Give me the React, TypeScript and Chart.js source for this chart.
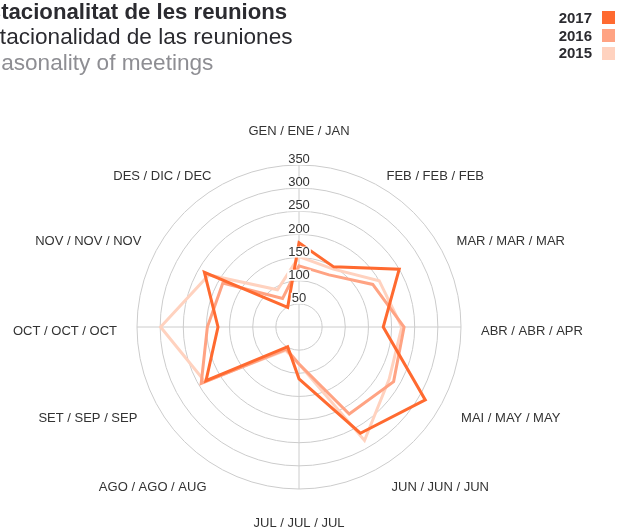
import React, { useEffect, useRef } from 'react';
import { Chart, registerables } from 'chart.js';

Chart.register(...registerables);

const months = [
  'GEN / ENE / JAN',
  'FEB / FEB / FEB',
  'MAR / MAR / MAR',
  'ABR / ABR / APR',
  'MAI / MAY / MAY',
  'JUN / JUN / JUN',
  'JUL / JUL / JUL',
  'AGO / AGO / AUG',
  'SET / SEP / SEP',
  'OCT / OCT / OCT',
  'NOV / NOV / NOV',
  'DES / DIC / DEC',
];

const seriesNames = ['2017', '2016', '2015'];
const values2017 = [182, 150, 250, 182, 315, 265, 112, 49, 232, 175, 236, 49];
const values2016 = [132, 130, 184, 227, 236, 217, 80, 55, 244, 198, 190, 71];
const values2015 = [152, 145, 200, 222, 225, 283, 80, 58, 235, 299, 225, 93];
const seriesColors = ['#ff6a30', '#ffa383', '#ffd2bf'];

const tickValues = [50, 100, 150, 200, 250, 300, 350];

const titleLines = [
  'Estacionalitat de les reunions',
  'Estacionalidad de las reuniones',
  'Seasonality of meetings',
];

const FONT = '"Liberation Sans", Arial, Helvetica, sans-serif';

// label nudges by angle (degrees from top): [outward x shift, y shift]
const labelNudge: Record<number, [number, number]> = {
  0: [0, -1],
  30: [-3.5, 4],
  60: [0, 2],
  90: [0, 1],
  120: [4.5, -3],
  150: [1.5, 0],
  180: [0, -1],
  210: [1.5, 0],
  240: [4, -3],
  270: [0, 1],
  300: [0, 2],
  330: [-3.5, 4],
};

const labelsPlugin = {
  id: 'customLabels',
  afterDatasetsDraw(chart: any) {
    const scale = chart.scales.r;
    const ctx = chart.ctx as CanvasRenderingContext2D;
    ctx.save();
    ctx.font = '13px ' + FONT;
    ctx.textBaseline = 'middle';
    ctx.textAlign = 'center';
    tickValues.forEach((v) => {
      const d = scale.getDistanceFromCenterForValue(v);
      const x = scale.xCenter;
      const y = scale.yCenter - d - 5.5;
      const txt = String(v);
      const w = ctx.measureText(txt).width;
      ctx.fillStyle = '#ffffff';
      ctx.fillRect(x - w / 2 - 1, y - 5.5, w + 2, 11);
      ctx.fillStyle = '#333333';
      ctx.fillText(txt, x, y);
    });
    (chart.data.labels as string[]).forEach((lab, i) => {
      const base = scale.getPointPosition(i, 0);
      const deg = Math.round((((base.angle + Math.PI / 2) * 180) / Math.PI + 360) % 360) % 360;
      let extra = 20;
      if (deg === 0) extra = 36;
      else if (deg === 180) extra = 32;
      const p = scale.getPointPosition(i, scale.drawingArea + extra);
      const nudge = labelNudge[deg] || [0, 0];
      const side = deg === 0 || deg === 180 ? 0 : deg < 180 ? 1 : -1;
      ctx.textAlign = side === 0 ? 'center' : side > 0 ? 'left' : 'right';
      ctx.fillStyle = '#333333';
      ctx.fillText(lab, p.x + side * nudge[0], p.y + 3 + nudge[1]);
    });
    ctx.restore();
  },
};

export default function App() {
  const canvasRef = useRef<HTMLCanvasElement | null>(null);

  useEffect(() => {
    document.body.style.margin = '0';
    const canvas = canvasRef.current;
    if (!canvas) return;
    const allValues = [values2017, values2016, values2015];
    const chart = new Chart(canvas, {
      type: 'radar',
      data: {
        labels: months,
        datasets: seriesNames.map((name, i) => ({
          label: name,
          data: allValues[i],
          borderColor: seriesColors[i],
          backgroundColor: 'rgba(0,0,0,0)',
          borderWidth: 3,
          fill: false,
          pointRadius: 0,
          pointHoverRadius: 0,
          tension: 0,
          borderJoinStyle: 'miter',
        })),
      },
      options: {
        animation: false,
        responsive: false,
        devicePixelRatio: 1,
        layout: { padding: { left: 137, right: 170, top: 165, bottom: 40 } },
        plugins: {
          legend: { display: false },
          tooltip: { enabled: false },
          title: { display: false },
        },
        scales: {
          r: {
            min: 0,
            max: 350,
            ticks: { stepSize: 50, display: false },
            pointLabels: { display: false },
            grid: { circular: true, color: '#cccccc', lineWidth: 1 },
            angleLines: {
              display: true,
              color: (c: any) => (c.index % 3 === 0 ? '#cccccc' : 'rgba(0,0,0,0)'),
              lineWidth: 1,
            },
          },
        },
      },
      plugins: [labelsPlugin],
    } as any);
    return () => chart.destroy();
  }, []);

  return (
    <div
      style={{
        position: 'absolute',
        left: 0,
        top: 0,
        width: 631,
        height: 529,
        overflow: 'hidden',
        background: '#ffffff',
        fontFamily: FONT,
      }}
    >
      <canvas
        ref={canvasRef}
        width={631}
        height={529}
        style={{ position: 'absolute', left: 0, top: 0, width: 631, height: 529 }}
      />
      {titleLines.map((t, i) => (
        <div
          key={t}
          style={{
            position: 'absolute',
            left: i === 0 ? -26 : -26.5,
            top: -1.5 + i * 25.5,
            fontSize: i === 0 ? 22.2 : 22.6,
            lineHeight: '25px',
            whiteSpace: 'nowrap',
            fontWeight: i === 0 ? 'bold' : 'normal',
            color: i === 2 ? '#8e8e93' : '#2b2b30',
          }}
        >
          {t}
        </div>
      ))}
      {seriesNames.map((name, i) => (
        <div
          key={name}
          style={{
            position: 'absolute',
            right: 631 - 592,
            top: 17.7 + i * 17.8 - 9,
            height: 18,
            lineHeight: '18px',
            fontSize: 15,
            fontWeight: 'bold',
            color: '#2b2b30',
            whiteSpace: 'nowrap',
          }}
        >
          {name}
        </div>
      ))}
      {seriesNames.map((name, i) => (
        <div
          key={name + '-box'}
          style={{
            position: 'absolute',
            left: 602,
            top: 17.7 + i * 17.8 - 6.5,
            width: 13,
            height: 13,
            background: seriesColors[i],
          }}
        />
      ))}
    </div>
  );
}
